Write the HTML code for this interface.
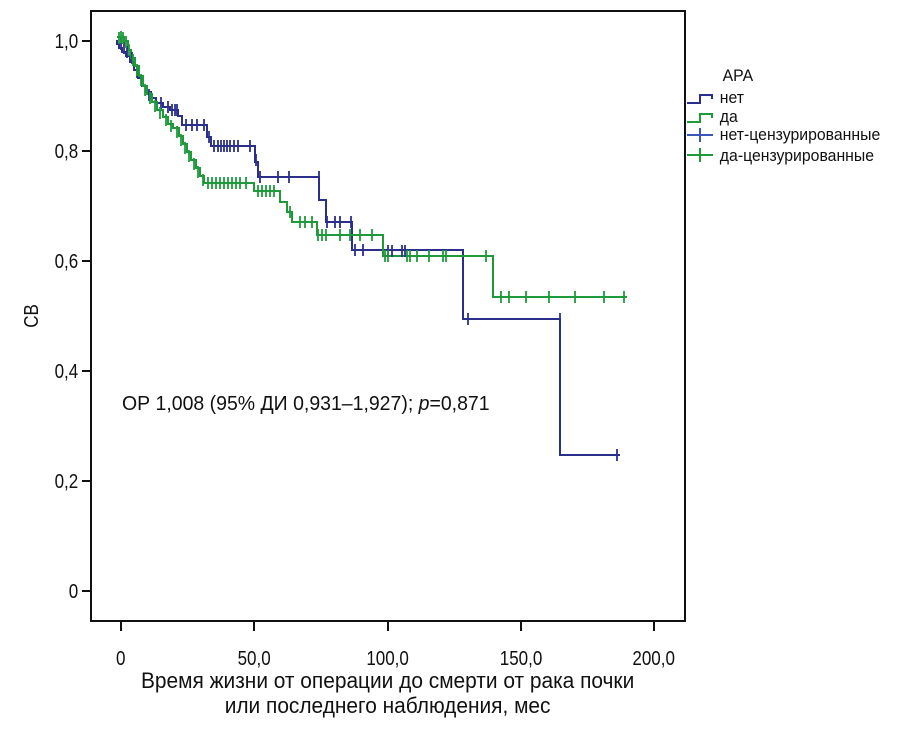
<!DOCTYPE html>
<html><head><meta charset="utf-8"><style>
body{margin:0;background:#fff;}
svg text{font-family:"Liberation Sans",sans-serif;fill:#111;}
</style></head><body>
<svg id="s" width="913" height="731" viewBox="0 0 913 731" xmlns="http://www.w3.org/2000/svg">
<rect x="91" y="11" width="594" height="610" fill="none" stroke="#111" stroke-width="2"/>
<g stroke="#111" stroke-width="2">
<line x1="82" y1="41" x2="91" y2="41"/><line x1="82" y1="151" x2="91" y2="151"/><line x1="82" y1="261" x2="91" y2="261"/><line x1="82" y1="371" x2="91" y2="371"/><line x1="82" y1="481" x2="91" y2="481"/><line x1="82" y1="591" x2="91" y2="591"/>
<line x1="121" y1="621" x2="121" y2="631"/><line x1="254" y1="621" x2="254" y2="631"/><line x1="388" y1="621" x2="388" y2="631"/><line x1="521" y1="621" x2="521" y2="631"/><line x1="654" y1="621" x2="654" y2="631"/>
</g>
<g font-size="20" text-anchor="end" transform="scale(0.85,1)">
<text x="92" y="48">1,0</text><text x="92" y="158">0,8</text><text x="92" y="268">0,6</text><text x="92" y="378">0,4</text><text x="92" y="488">0,2</text><text x="92" y="598">0</text>
</g>
<g font-size="20" text-anchor="middle" transform="scale(0.85,1)">
<text x="142" y="665">0</text><text x="299" y="665">50,0</text><text x="456" y="665">100,0</text><text x="613" y="665">150,0</text><text x="769" y="665">200,0</text>
</g>
<g font-size="22" text-anchor="middle" transform="scale(0.95,1)">
<text x="408" y="688">Время жизни от операции до смерти от рака почки</text>
<text x="408" y="713">или последнего наблюдения, мес</text>
</g>
<text font-size="20" transform="translate(38,316) rotate(-90) scale(0.85,1)" text-anchor="middle">СВ</text>
<text font-size="20.5" transform="translate(122,410) scale(0.95,1)">ОР 1,008 (95% ДИ 0,931–1,927); <tspan font-style="italic">p</tspan>=0,871</text>
<g font-size="17" transform="scale(0.93,1)">
<text x="777" y="81">АРА</text><text x="774" y="103">нет</text><text x="774" y="122">да</text><text x="774" y="140">нет-цензурированные</text><text x="774" y="161">да-цензурированные</text>
</g>
<path d="M687,103 H700 V95 H712 V99" fill="none" stroke="#2b2f8c" stroke-width="2"/>
<path d="M687,122 H700 V114 H712 V118" fill="none" stroke="#1e9a3a" stroke-width="2"/>
<path d="M687,135 H713 M700,128 V142" stroke="#3a56b8" stroke-width="2"/>
<path d="M687,155 H713 M700,148 V162" stroke="#1e9a3a" stroke-width="2"/>
<path id="b" d="M117,40 V44 H119 V48 H122 V52 H126 V56 H130 V62 H134 V70 H138 V78 H142 V86 H146 V92 H151 V98 H156 V103 H163 V107 H170 V110 H178 V116 H182 V125 H207 V137 H211 V146 H255 V162 H258 V177 H319 V200 H326 V222 H352 V250 H463 V319 H560 V455 H620" fill="none" stroke="#2b2f8c" stroke-width="2"/>
<path id="g" d="M117,37 H124 V41 H128 V50 H131 V58 H135 V66 H139 V76 H143 V86 H147 V94 H152 V102 H157 V110 H163 V117 H168 V124 H173 V128 H179 V136 H183 V144 H187 V152 H191 V160 H196 V168 H200 V176 H204 V183 H254 V191 H280 V202 H287 V212 H292 V222 H317 V235 H383 V256 H493 V297 H627" fill="none" stroke="#1e9a3a" stroke-width="2"/>
<g id="ticks" stroke-width="1.8"></g>
</svg>
<script>
var t=document.getElementById('ticks'),h='';
function tk(c,pts){pts.forEach(function(p){h+='<line x1="'+p[0]+'" y1="'+(p[1]-6)+'" x2="'+p[0]+'" y2="'+(p[1]+6)+'" stroke="'+c+'"/>';});}
tk('#2b2f8c',[[121,44],[124,48],[127,52],[132,58],[137,72],[149,95],[161,103],[168,107],[172,110],[175,110],[177,110],[186,125],[192,125],[197,125],[204,125],[209,137],[214,146],[218,146],[221,146],[224,146],[227,146],[230,146],[234,146],[238,146],[250,146],[256,160],[260,177],[278,177],[289,177],[319,177],[327,222],[335,222],[340,222],[351,222],[355,250],[363,250],[388,251],[392,251],[402,251],[405,251],[468,319],[560,319],[617,455]]);
tk('#1e9a3a',[[119,38],[121,37],[123,38],[126,42],[129,50],[133,60],[137,70],[141,80],[145,90],[150,98],[155,106],[160,113],[166,120],[171,126],[177,132],[181,140],[185,148],[189,156],[194,164],[198,172],[203,180],[208,183],[212,183],[216,183],[220,183],[224,183],[228,183],[232,183],[236,183],[240,183],[246,183],[258,191],[262,191],[266,191],[270,191],[274,191],[290,212],[300,222],[305,222],[312,222],[318,235],[322,235],[326,235],[340,235],[350,235],[360,235],[372,235],[385,256],[388,256],[407,256],[410,256],[417,256],[429,256],[443,256],[446,256],[486,256],[501,297],[509,297],[526,297],[549,297],[575,297],[604,297],[624,297]]);
t.innerHTML=h;
</script>
</body></html>
